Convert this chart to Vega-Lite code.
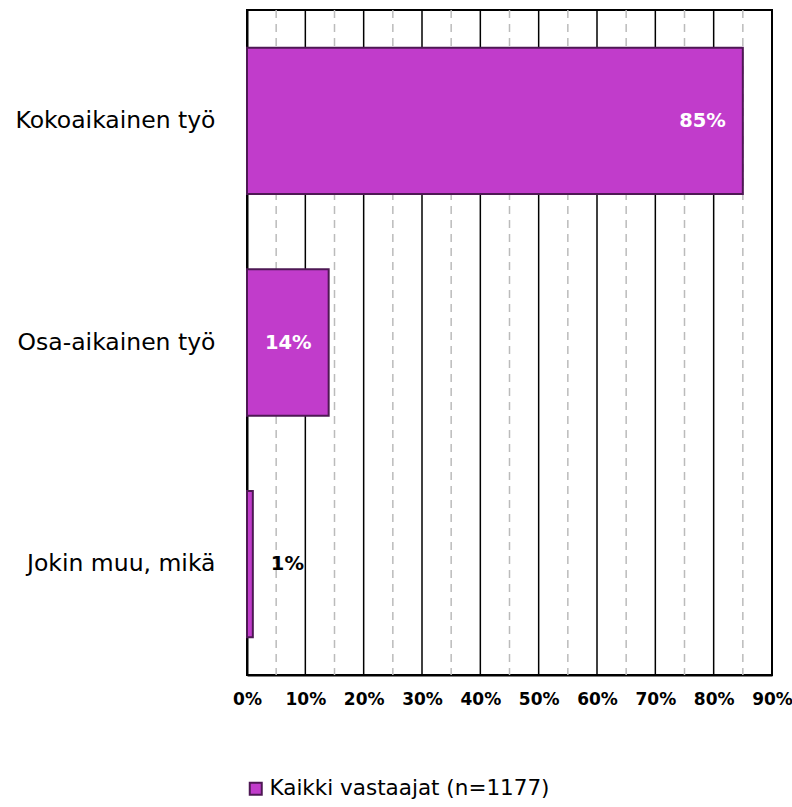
{
  "$schema": "https://vega.github.io/schema/vega-lite/v6.json",
  "width": 525,
  "height": 665,
  "autosize": {"type": "none"},
  "padding": {"left": 247, "top": 10, "right": 20, "bottom": 132},
  "config": {
    "font": "DejaVu Sans",
    "view": {"stroke": "black", "strokeWidth": 2}
  },
  "datasets": {
    "bars": [
      {"kategoria": "Kokoaikainen työ", "osuus": 0.85, "sarja": "Kaikki vastaajat (n=1177)"},
      {"kategoria": "Osa-aikainen työ", "osuus": 0.14, "sarja": "Kaikki vastaajat (n=1177)"},
      {"kategoria": "Jokin muu, mikä", "osuus": 0.01, "sarja": "Kaikki vastaajat (n=1177)"}
    ],
    "major": [{"v": 0.1}, {"v": 0.2}, {"v": 0.3}, {"v": 0.4}, {"v": 0.5}, {"v": 0.6}, {"v": 0.7}, {"v": 0.8}, {"v": 0.9}],
    "minor": [{"v": 0.05}, {"v": 0.15}, {"v": 0.25}, {"v": 0.35}, {"v": 0.45}, {"v": 0.55}, {"v": 0.65}, {"v": 0.75}, {"v": 0.85}]
  },
  "layer": [
    {
      "data": {"name": "minor"},
      "mark": {"type": "rule", "color": "#bbbbbb", "strokeWidth": 1.5, "strokeDash": [8, 6]},
      "encoding": {"x": {"field": "v", "type": "quantitative"}}
    },
    {
      "data": {"name": "major"},
      "mark": {"type": "rule", "color": "black", "strokeWidth": 1.5},
      "encoding": {"x": {"field": "v", "type": "quantitative"}}
    },
    {
      "data": {"name": "bars"},
      "layer": [
        {
          "mark": {"type": "bar", "stroke": "#4e1854", "strokeWidth": 2},
          "encoding": {
            "y": {
              "field": "kategoria", "type": "nominal", "sort": null,
              "scale": {"paddingInner": 0.34, "paddingOuter": 0.17},
              "axis": {"title": null, "ticks": false, "domainColor": "black", "domainWidth": 2, "labelFontSize": 23.5, "labelPadding": 32, "labelColor": "black", "labelLimit": 0}
            },
            "x": {
              "field": "osuus", "type": "quantitative",
              "scale": {"domain": [0, 0.9], "nice": false},
              "axis": {"title": null, "format": ".0%", "values": [0, 0.1, 0.2, 0.3, 0.4, 0.5, 0.6, 0.7, 0.8, 0.9], "grid": false, "ticks": false, "domainColor": "black", "domainWidth": 2, "labelFontSize": 17, "labelFontWeight": "bold", "labelColor": "black", "labelPadding": 16, "labelFlush": false}
            },
            "color": {
              "field": "sarja", "type": "nominal",
              "scale": {"range": ["#c13ccb"]},
              "legend": {"title": null, "orient": "none", "legendX": -2, "legendY": 768, "symbolType": "square", "symbolSize": 144, "symbolStrokeColor": "#4e1854", "symbolStrokeWidth": 2, "labelFontSize": 21.5, "labelColor": "black", "labelOffset": 3, "labelLimit": 0}
            }
          }
        },
        {
          "transform": [{"filter": "datum.osuus >= 0.05"}],
          "mark": {"type": "text", "align": "right", "dx": -17, "color": "white", "fontWeight": "bold", "fontSize": 19.5},
          "encoding": {
            "y": {"field": "kategoria", "type": "nominal", "sort": null},
            "x": {"field": "osuus", "type": "quantitative"},
            "text": {"field": "osuus", "type": "quantitative", "format": ".0%"}
          }
        },
        {
          "transform": [{"filter": "datum.osuus < 0.05"}],
          "mark": {"type": "text", "align": "left", "dx": 18, "color": "black", "fontWeight": "bold", "fontSize": 19.5},
          "encoding": {
            "y": {"field": "kategoria", "type": "nominal", "sort": null},
            "x": {"field": "osuus", "type": "quantitative"},
            "text": {"field": "osuus", "type": "quantitative", "format": ".0%"}
          }
        }
      ]
    }
  ]
}
